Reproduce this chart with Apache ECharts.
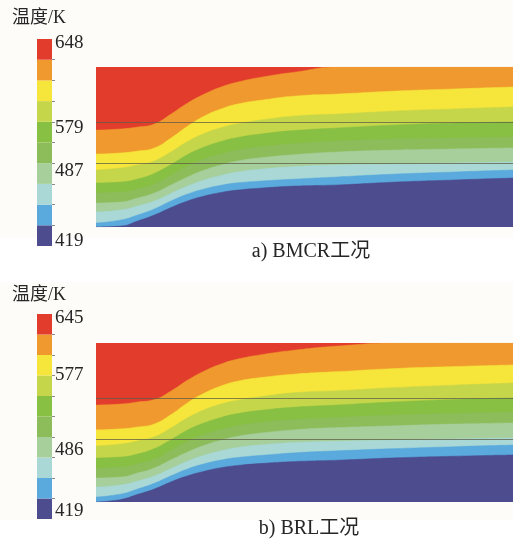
<!DOCTYPE html>
<html>
<head>
<meta charset="utf-8">
<script src="https://cdn.jsdelivr.net/npm/echarts@6/dist/echarts.min.js"></script>
<style>html,body{margin:0;padding:0;background:#fff;}#c{width:513px;height:541px;}</style>
</head>
<body>
<div id="c"></div>
<script>
// ---- data ----
const legendTitle = '温度/K';
const captionA = 'a) BMCR工况';
const captionB = 'b) BRL工况';
// colour levels, bottom (coldest) to top (hottest)
const levelColors = ['#4d4c8e', '#5aaadd', '#a9d8d6', '#a6cf9c', '#8dbd5a', '#88c043', '#c6d64a', '#f6e53a', '#f0992f', '#e23c2d'];
// colour-bar tick labels and their level positions (0 = bottom, 10 = top)
const tickLabelsA = ['648', '579', '487', '419'];
const tickLevelsA = [9.8, 5.7, 3.6, 0.25];
const tickLabelsB = ['645', '577', '486', '419'];
const tickLevelsB = [9.8, 7.0, 3.35, 0.4];
// horizontal sampling positions along the domain (% of length)
const xPos = [0, 6, 10, 14, 18, 22, 26, 30, 34, 40, 48, 58, 72, 86, 100];
// isotherm boundaries (% of height), BMCR: top boundary (red|orange) first
const a1 = [60.6, 61.3, 62.5, 64.4, 70.6, 77.5, 83.1, 87.5, 90.6, 93.8, 96.9, 100, 100, 100, 100];
const a2 = [45.6, 46.3, 47.5, 49.4, 55.6, 63.1, 69.4, 73.8, 76.9, 79.4, 81.9, 83.1, 85, 86.3, 87.5];
const a3 = [35.6, 36.9, 38.8, 41.3, 47, 53.5, 58.5, 62, 64.5, 67, 69.4, 70.6, 72.5, 73.8, 75];
const a4 = [27.5, 28.1, 30, 33.5, 39, 45.3, 50, 53.5, 56, 58.3, 60.4, 61.9, 63.8, 65, 65.6];
const a5 = [21.3, 21.9, 23.8, 26.9, 32.5, 38.1, 42.5, 45.6, 48.1, 50.3, 52.2, 53.8, 55, 55.6, 56.3];
const a6 = [15, 15.6, 18.1, 21.3, 26.3, 31.3, 35.6, 38.8, 41.3, 43.4, 45.3, 46.9, 48.1, 48.8, 49.4];
const a7 = [9.4, 10.6, 13.1, 16.3, 21, 25.6, 29.4, 32.2, 34.4, 36.3, 37.8, 38.8, 39.4, 40, 40.6];
const a8 = [2.5, 4.4, 7.5, 11.3, 16.3, 20.6, 23.8, 26.1, 27.6, 28.8, 30, 31.3, 33.1, 34.4, 35.6];
const a9 = [0, 0.6, 3.8, 7.5, 12.2, 16.3, 19.4, 21.6, 23.1, 24.4, 25.6, 26.3, 28.1, 29.4, 30.6];
// BRL
const b1 = [61, 61.6, 62.9, 64.4, 69.8, 76.7, 82.4, 86.8, 89.9, 92.8, 95.6, 98.1, 100, 100, 100];
const b2 = [45.3, 46, 47.2, 49.1, 55, 62.5, 68.5, 73, 76, 78.4, 80.5, 82, 84, 85.2, 86.2];
const b3 = [35.2, 36.5, 38.4, 41, 46.6, 53, 58, 61.6, 64, 66.4, 68.8, 70, 72, 73.5, 74.8];
const b4 = [27.7, 28.3, 30.2, 33.6, 39.2, 45.3, 49.8, 53.2, 55.6, 57.8, 59.7, 61, 63, 64.5, 65.4];
const b5 = [21.4, 22, 24, 27, 32.6, 38.2, 42.5, 45.6, 48, 50.2, 51.9, 53.2, 54.7, 55.7, 56.6];
const b6 = [15.1, 15.7, 18.2, 21.4, 26.5, 31.5, 35.7, 38.9, 41.3, 43.5, 45.5, 46.8, 48, 49, 49.7];
const b7 = [9.4, 10.7, 13.2, 16.4, 21.1, 25.7, 29.4, 32.2, 34.3, 36, 37.4, 38.2, 39, 39.7, 40.3];
const b8 = [3.1, 5, 8.2, 11.8, 16.5, 20.8, 24, 26.4, 28, 29.4, 31, 32.2, 33.6, 34.8, 35.8];
const b9 = [0, 1.6, 4.8, 8.2, 12.7, 16.5, 19.4, 21.6, 23, 24.3, 25.5, 26.3, 27.8, 28.8, 29.6];
// measuring lines across the domain (% of height)
const refLinesA = [65.6, 40];
const refLinesB = [65.4, 39.6];

const boundsA = [a1, a2, a3, a4, a5, a6, a7, a8, a9];
const boundsB = [b1, b2, b3, b4, b5, b6, b7, b8, b9];
const levelNames = levelColors.map((c, i) => 'L' + i);

// ---- chart ----
const chart = echarts.init(document.getElementById('c'), null, {renderer: 'canvas'});
const serifFont = '"Liberation Serif", "Noto Sans CJK SC", serif';

const grids = [
  {left: 37, top: 39, width: 15, height: 207},
  {left: 96, top: 67, width: 417, height: 160, show: true, backgroundColor: levelColors[9], borderWidth: 0},
  {left: 37, top: 314, width: 15, height: 205},
  {left: 96, top: 343, width: 417, height: 159, show: true, backgroundColor: levelColors[9], borderWidth: 0}
];

const hidden = {show: false};
const xAxes = [
  {gridIndex: 0, type: 'value', min: 0, max: 1, show: false},
  {gridIndex: 1, type: 'value', min: 0, max: 100, show: false},
  {gridIndex: 2, type: 'value', min: 0, max: 1, show: false},
  {gridIndex: 3, type: 'value', min: 0, max: 100, show: false}
];

function cbValueAxis(gridIndex, labels, levels) {
  return {
    gridIndex: gridIndex, type: 'value', min: 0, max: 10, position: 'right',
    axisLine: hidden, splitLine: hidden,
    axisTick: {show: true, length: 3, customValues: [1,2,3,4,5,6,7,8,9], lineStyle: {color: '#8a8a8a', width: 1}},
    axisLabel: {
      show: true, margin: 3, customValues: levels,
      formatter: v => { const i = levels.findIndex(l => Math.abs(l - v) < 1e-6); return i >= 0 ? labels[i] : ''; },
      fontFamily: serifFont, fontSize: 19, color: '#262626'
    }
  };
}
const yAxes = [
  {gridIndex: 0, type: 'category', data: levelNames, show: false},
  cbValueAxis(0, tickLabelsA, tickLevelsA),
  {gridIndex: 1, type: 'value', min: 0, max: 100, show: false},
  {gridIndex: 2, type: 'category', data: levelNames, show: false},
  cbValueAxis(2, tickLabelsB, tickLevelsB),
  {gridIndex: 3, type: 'value', min: 0, max: 100, show: false}
];

function colorBar(xi, yi) {
  return {
    type: 'bar', xAxisIndex: xi, yAxisIndex: yi, barWidth: '100%', barCategoryGap: '0%',
    silent: true,
    data: levelColors.map(c => ({value: 1, itemStyle: {color: c}}))
  };
}

function field(xi, yi, bounds, refLines) {
  const out = [];
  bounds.forEach((b, k) => {
    const colorBelow = levelColors[8 - k];
    out.push({
      type: 'line', xAxisIndex: xi, yAxisIndex: yi,
      data: xPos.map((x, i) => [x, b[i]]),
      smooth: 0.5, showSymbol: false, silent: true,
      lineStyle: {width: 0.5, color: colorBelow},
      areaStyle: {color: colorBelow, opacity: 1},
      z: 2 + k
    });
  });
  out.push({
    type: 'line', xAxisIndex: xi, yAxisIndex: yi, data: [], silent: true, z: 20,
    markLine: {
      silent: true, symbol: 'none', label: {show: false}, z: 20,
      lineStyle: {color: '#5e5e46', width: 1, type: 'solid', opacity: 0.75},
      data: refLines.map(v => ({yAxis: v}))
    }
  });
  return out;
}

const option = {
  animation: false,
  backgroundColor: '#ffffff',
  grid: grids,
  xAxis: xAxes,
  yAxis: yAxes,
  graphic: [
    {type: 'rect', shape: {x: 0, y: 0, width: 513, height: 238}, style: {fill: '#fdfcf8'}, z: -10, silent: true},
    {type: 'rect', shape: {x: 0, y: 282, width: 513, height: 238}, style: {fill: '#fdfcf8'}, z: -10, silent: true},
    {type: 'text', left: 12, top: 9, style: {text: legendTitle, font: '18px ' + serifFont, fill: '#262626'}},
    {type: 'text', left: 12, top: 286, style: {text: legendTitle, font: '18px ' + serifFont, fill: '#262626'}},
    {type: 'text', x: 311, y: 252, style: {text: captionA, font: '20px ' + serifFont, fill: '#262626', align: 'center', verticalAlign: 'middle'}},
    {type: 'text', x: 309, y: 529, style: {text: captionB, font: '20px ' + serifFont, fill: '#262626', align: 'center', verticalAlign: 'middle'}}
  ],
  series: [].concat(
    [colorBar(0, 0)],
    field(1, 2, boundsA, refLinesA),
    [colorBar(2, 3)],
    field(3, 5, boundsB, refLinesB)
  )
};
chart.setOption(option);
</script>
</body>
</html>
